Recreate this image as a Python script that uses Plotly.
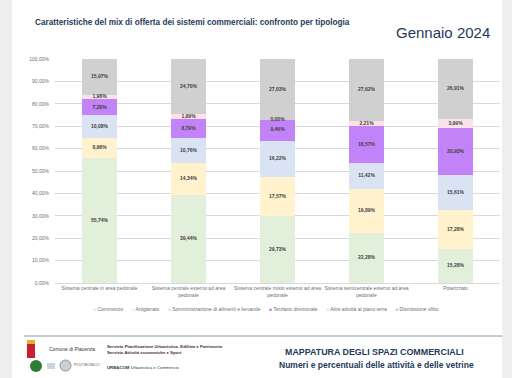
import plotly.graph_objects as go

categories = [
    "Sistema centrale in area pedonale",
    "Sistema centrale esterno ad area<br>pedonale",
    "Sistema centrale misto esterno ad area<br>pedonale",
    "Sistema semicentrale esterno ad area<br>pedonale",
    "Polarizzato",
]
series_names = [
    "Commercio",
    "Artigianato",
    "Somministrazione di alimenti e bevande",
    "Terziario direzionale",
    "Altre attività al piano terra",
    "Dismissione sfitto",
]
commercio = [55.74, 39.44, 29.73, 22.28, 15.28]
artigianato = [8.98, 14.34, 17.57, 19.89, 17.28]
somministrazione = [10.08, 10.76, 16.22, 11.42, 15.61]
terziario = [7.28, 8.79, 9.46, 16.57, 20.93]
altre = [1.98, 1.99, 0.00, 2.21, 3.99]
dismissione = [15.97, 24.70, 27.03, 27.62, 26.91]
y_ticks = [0, 10, 20, 30, 40, 50, 60, 70, 80, 90, 100]
y_tick_labels = ["0,00%", "10,00%", "20,00%", "30,00%", "40,00%", "50,00%",
                 "60,00%", "70,00%", "80,00%", "90,00%", "100,00%"]

series = [commercio, artigianato, somministrazione, terziario, altre, dismissione]
colors = ["#e2efda", "#fff2cc", "#dae3f3", "#c183f7", "#fbe1e8", "#d0d0d0"]

W, H = 512, 378
PL, PR, PT, PB = 55, 500, 59, 283


def fx(px):
    return (px - PL) / (PR - PL)


def fy(py):
    return (PB - py) / (PB - PT)


def fmt(v):
    return f"{v:.2f}".replace(".", ",") + "%"


fig = go.Figure()
for name, vals, col in zip(series_names, series, colors):
    fig.add_trace(go.Bar(
        x=categories, y=vals, name=name, marker=dict(color=col, line=dict(width=0)),
        hoverinfo="skip", showlegend=False,
    ))

# labels centred in segments
cum = [0.0] * len(categories)
lx, ly, lt = [], [], []
for vals in series:
    for i, v in enumerate(vals):
        lx.append(categories[i])
        ly.append(cum[i] + v / 2)
        lt.append("<b>" + fmt(v) + "</b>")
        cum[i] += v
fig.add_trace(go.Scatter(
    x=lx, y=ly, text=lt, mode="text", showlegend=False, hoverinfo="skip",
    textfont=dict(size=5, color="#404040", family="Liberation Sans"),
))

shapes = [
    dict(type="rect", xref="paper", yref="paper", x0=fx(0), x1=fx(12), y0=fy(H), y1=fy(0),
         fillcolor="#eeeeee", line=dict(width=0), layer="below"),
    dict(type="rect", xref="paper", yref="paper", x0=fx(502), x1=fx(W), y0=fy(H), y1=fy(0),
         fillcolor="#eeeeee", line=dict(width=0), layer="below"),
    dict(type="line", xref="paper", yref="paper", x0=fx(24), x1=fx(502), y0=fy(336), y1=fy(336),
         line=dict(color="#8c9aa0", width=1)),
    # logo approximations
    dict(type="rect", xref="paper", yref="paper", x0=fx(27), x1=fx(35), y0=fy(358), y1=fy(341),
         fillcolor="#c8202f", line=dict(width=0)),
    dict(type="rect", xref="paper", yref="paper", x0=fx(27), x1=fx(35), y0=fy(344), y1=fy(340),
         fillcolor="#e0b030", line=dict(width=0)),
    dict(type="circle", xref="paper", yref="paper", x0=fx(30), x1=fx(42), y0=fy(372), y1=fy(360),
         fillcolor="#2e7d32", line=dict(width=0)),
    dict(type="rect", xref="paper", yref="paper", x0=fx(47), x1=fx(55), y0=fy(369), y1=fy(363),
         fillcolor="#cfd4d8", line=dict(width=0)),
    dict(type="circle", xref="paper", yref="paper", x0=fx(60), x1=fx(71), y0=fy(371), y1=fy(360),
         fillcolor="#c9d0d6", line=dict(color="#8a949c", width=1)),
]

legend_parts = []
for name, col in zip(series_names, colors):
    legend_parts.append(f'<span style="color:{col}">■</span> {name}')
legend_text = "&nbsp;&nbsp;&nbsp;&nbsp;&nbsp;&nbsp;".join(legend_parts)

dark = "#1f3a5a"
annotations = [
    dict(text="<b>Caratteristiche del mix di offerta dei sistemi commerciali: confronto per tipologia</b>",
         x=fx(33), y=fy(22), xanchor="left", yanchor="middle",
         font=dict(size=8.2, color=dark, family="Liberation Sans")),
    dict(text="Gennaio 2024", x=fx(492), y=fy(32), xanchor="right", yanchor="middle",
         font=dict(size=15, color=dark, family="Liberation Sans")),
    dict(text="<b>MAPPATURA DEGLI SPAZI COMMERCIALI</b>", x=fx(374), y=fy(352),
         xanchor="center", yanchor="middle",
         font=dict(size=8.9, color=dark, family="Liberation Sans")),
    dict(text="<b>Numeri e percentuali delle attività e delle vetrine</b>", x=fx(376), y=fy(365),
         xanchor="center", yanchor="middle",
         font=dict(size=8.5, color=dark, family="Liberation Sans")),
    dict(text="Comune di Piacenza", x=fx(47), y=fy(349), xanchor="left", yanchor="middle",
         font=dict(size=5, color="#333333", family="Liberation Sans")),
    dict(text="<b>Servizio Pianificazione Urbanistica, Edilizia e Patrimonio</b><br><b>Servizio Attività economiche e Sport</b>",
         x=fx(105), y=fy(349), xanchor="left", yanchor="middle", align="left",
         font=dict(size=4.3, color="#4a2a2a", family="Liberation Sans")),
    dict(text="POLITECNICO", x=fx(72), y=fy(365), xanchor="left", yanchor="middle",
         font=dict(size=3.8, color="#555555", family="Liberation Sans")),
    dict(text="<b>URBACOM</b> Urbanistica e Commercio", x=fx(105), y=fy(367), xanchor="left",
         yanchor="middle", font=dict(size=4.3, color="#3a3a3a", family="Liberation Sans")),
    dict(text=legend_text, x=fx(266), y=fy(309), xanchor="center", yanchor="middle",
         font=dict(size=5, color="#707070", family="Liberation Sans")),
]
for a in annotations:
    a.update(xref="paper", yref="paper", showarrow=False)

fig.update_layout(
    width=W, height=H,
    margin=dict(l=PL, r=W - PR, t=PT, b=H - PB, autoexpand=False),
    barmode="stack", bargap=0.6,
    paper_bgcolor="white", plot_bgcolor="white",
    font=dict(family="Liberation Sans", size=5, color="#666666"),
    shapes=shapes, annotations=annotations, showlegend=False,
)
fig.update_xaxes(showgrid=False, showline=True, linecolor="#d9d9d9", linewidth=1,
                 tickfont=dict(size=5, color="#707070"), ticks="", tickangle=0,
                 automargin=False)
fig.update_yaxes(range=[0, 100], tickvals=y_ticks, ticktext=y_tick_labels,
                 showgrid=True, gridcolor="#d9d9d9", gridwidth=1, zeroline=False,
                 tickfont=dict(size=5, color="#707070"), ticks="", ticklabelstandoff=5,
                 automargin=False)

fig.write_html(
    "out.html",
    config={"displayModeBar": False},
    post_script="document.body.style.margin='0';document.body.style.overflow='hidden';",
)
